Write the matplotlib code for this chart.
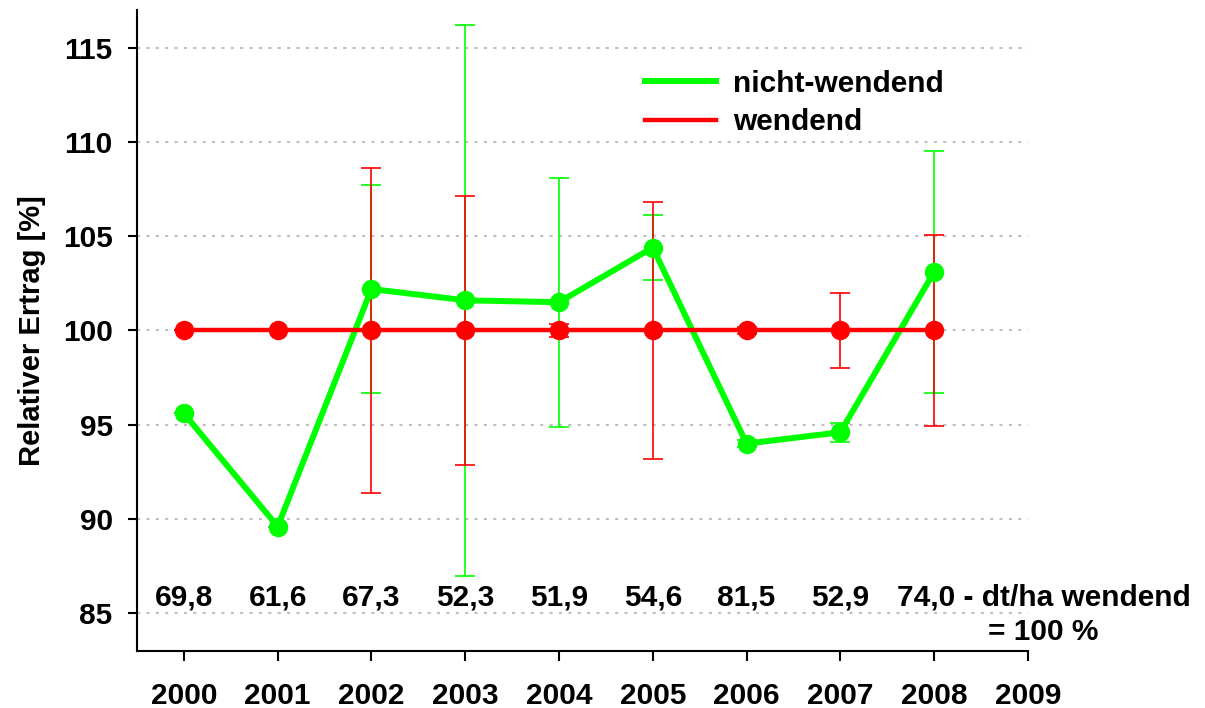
import matplotlib
matplotlib.use("Agg")
import matplotlib.pyplot as plt
from matplotlib.lines import Line2D

plt.rcParams['font.family'] = ['Liberation Sans', 'DejaVu Sans']
plt.rcParams['font.weight'] = 'bold'

# --- data ---
years = [2000, 2001, 2002, 2003, 2004, 2005, 2006, 2007, 2008]
nicht_wendend = [95.6, 89.6, 102.2, 101.6, 101.5, 104.4, 94.0, 94.6, 103.1]
nicht_wendend_err = [0, 0, 5.5, 14.6, 6.6, 1.7, 0.2, 0.5, 6.4]
wendend = [100, 100, 100, 100, 100, 100, 100, 100, 100]
wendend_err = [0, 0, 8.6, 7.15, 0.35, 6.8, 0.2, 2.0, 5.05]
ertrag_labels = ['69,8', '61,6', '67,3', '52,3', '51,9', '54,6', '81,5', '52,9']
last_label = '74,0 - dt/ha wendend'
yticks = [85, 90, 95, 100, 105, 110, 115]
xticks = list(range(2000, 2010))

green = '#00ff00'
red = '#ff0000'
fs = 21.5

fig = plt.figure(figsize=(12.05, 7.08), dpi=100)
ax = fig.add_axes([0.1137, 0.0805, 0.853 - 0.1137, 0.9859 - 0.0805])

# grid
for y in yticks:
    ax.axhline(y, color='#c0c0c0', lw=1.5, ls=(0, (1.5, 3)), zorder=0)

# error bars
ax.errorbar(years, nicht_wendend, yerr=nicht_wendend_err, fmt='none',
            ecolor=green, elinewidth=1.2, capsize=7.2, capthick=1.2, zorder=2)
ax.errorbar(years, wendend, yerr=wendend_err, fmt='none',
            ecolor=red, elinewidth=1.2, capsize=7.2, capthick=1.2, zorder=3)

# lines
ax.plot(years, nicht_wendend, color=green, lw=4.3, marker='o', ms=13, zorder=4)
ax.plot(years, wendend, color=red, lw=3.2, marker='o', ms=13, zorder=5)

# yield labels
for x, s in zip(years[:-1], ertrag_labels):
    ax.text(x, 85.85, s, ha='center', va='center', fontsize=fs, fontweight='bold')
ax.text(years[-1] - 0.395, 85.85, last_label, ha='left', va='center',
        fontsize=fs, fontweight='bold', clip_on=False)
ax.text(2009.16, 84.0, '= 100 %', ha='center', va='center',
        fontsize=fs, fontweight='bold', clip_on=False)

ax.set_xlim(1999.5, 2009)
ax.set_ylim(83.0, 117.0)
ax.set_xticks(xticks)
ax.set_yticks(yticks)
ax.tick_params(axis='x', length=7, width=1.5, pad=15, labelsize=fs)
ax.tick_params(axis='y', length=6.5, width=1.5, pad=11, labelsize=fs)
for lab in ax.get_xticklabels() + ax.get_yticklabels():
    lab.set_fontweight('bold')

ax.spines['top'].set_visible(False)
ax.spines['right'].set_visible(False)
ax.spines['left'].set_linewidth(1.5)
ax.spines['bottom'].set_linewidth(1.5)

ax.set_ylabel('Relativer Ertrag [%]', fontsize=21, fontweight='bold', labelpad=12)

handles = [Line2D([], [], color=green, lw=4.3),
           Line2D([], [], color=red, lw=3.2)]
fig.legend(handles, ['nicht-wendend', 'wendend'], loc='center left',
           bbox_to_anchor=(0.535, 0.8545), frameon=False,
           handlelength=2.4, handletextpad=0.55, labelspacing=0.35,
           borderpad=0, borderaxespad=0, prop={'weight': 'bold', 'size': fs})

fig.savefig('out.png', dpi=100)
